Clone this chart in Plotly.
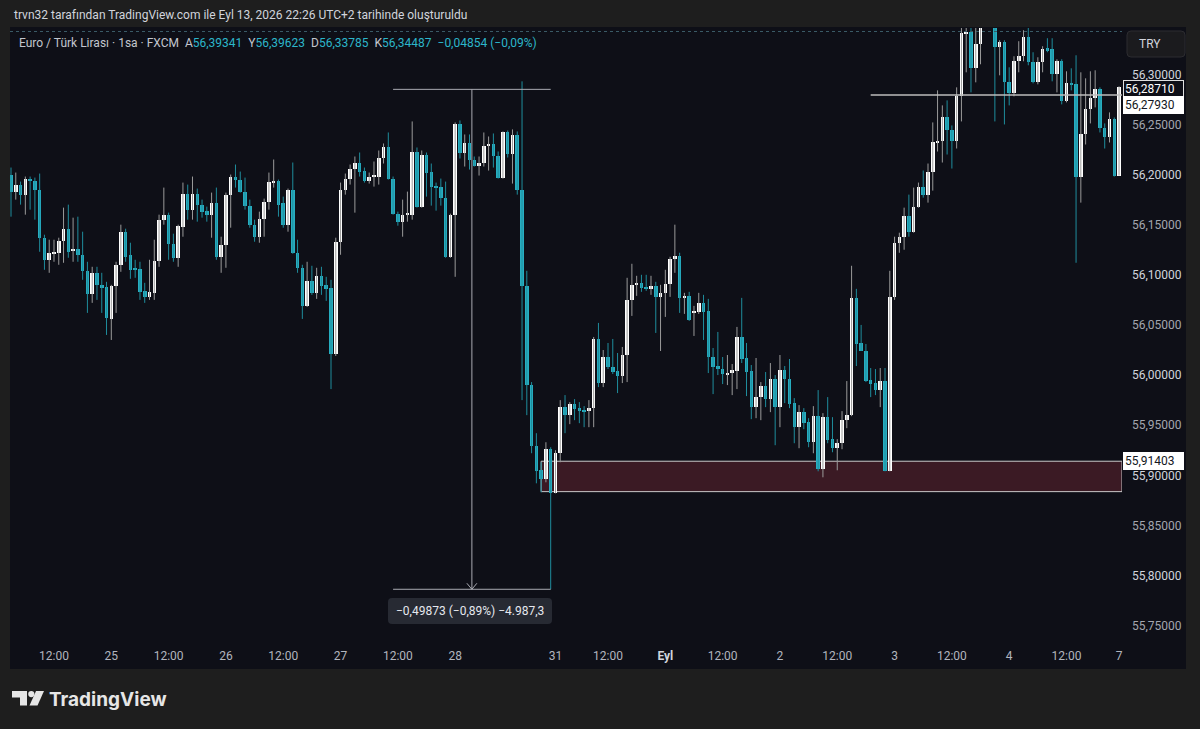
import plotly.graph_objects as go

# ---------------- data (EUR/TRY, 1h bars) ----------------
opens = [56.200,56.183,56.190,56.180,56.196,56.194,56.185,56.137,56.115,56.121,
         56.122,56.134,56.146,56.124,56.126,56.120,56.104,56.081,56.102,56.090,
         56.088,56.056,56.089,56.110,56.143,56.120,56.107,56.106,56.084,56.078,
         56.082,56.114,56.155,56.160,56.131,56.117,56.148,56.181,56.165,56.181,
         56.170,56.164,56.160,56.172,56.118,56.130,56.180,56.198,56.195,56.183,
         56.169,56.150,56.138,56.156,56.173,56.192,56.194,56.172,56.150,56.185,
         56.122,56.107,56.069,56.094,56.082,56.099,56.090,56.087,56.021,56.133,
         56.185,56.196,56.206,56.212,56.204,56.194,56.198,56.198,56.217,56.227,
         56.196,56.161,56.153,56.160,56.160,56.223,56.168,56.220,56.203,56.188,
         56.188,56.177,56.118,56.160,56.250,56.222,56.231,56.215,56.209,56.212,
         56.228,56.230,56.219,56.197,56.242,56.221,56.239,56.185,56.089,55.990,
         55.929,55.905,55.896,55.926,55.882,55.922,55.968,55.960,55.971,55.967,
         55.965,55.964,55.967,56.036,55.992,56.018,56.008,56.004,55.999,56.020,
         56.075,56.090,56.092,56.088,56.086,56.089,56.078,56.082,56.091,56.116,
         56.119,56.077,56.079,56.062,56.063,56.072,56.064,56.018,56.009,56.006,
         56.001,56.002,56.004,56.038,56.017,56.004,55.968,55.978,55.989,55.976,
         55.996,55.968,56.005,55.996,55.972,55.948,55.963,55.953,55.933,55.959,
         55.906,55.958,55.936,55.927,55.932,55.955,55.960,56.077,56.032,56.024,
         55.995,55.992,55.985,55.994,55.904,56.078,56.132,56.138,56.159,56.143,
         56.168,56.188,56.180,56.203,56.232,56.233,56.257,56.244,56.233,56.278,
         56.341,56.342,56.306,56.330,56.352,56.370,56.358,56.327,56.332,56.292,
         56.281,56.313,56.318,56.337,56.312,56.292,56.312,56.326,56.325,56.300,
         56.313,56.273,56.291,56.290,56.198,56.240,56.265,56.276,56.285,56.246,
         56.237,56.255,56.199]
highs = [56.207,56.202,56.193,56.198,56.198,56.197,56.201,56.140,56.135,56.135,
         56.137,56.167,56.170,56.157,56.158,56.143,56.113,56.108,56.108,56.102,
         56.093,56.090,56.113,56.150,56.146,56.132,56.115,56.113,56.092,56.115,
         56.135,56.160,56.187,56.162,56.141,56.150,56.192,56.190,56.198,56.186,
         56.175,56.168,56.182,56.187,56.138,56.182,56.200,56.210,56.203,56.197,
         56.175,56.155,56.163,56.176,56.202,56.215,56.195,56.178,56.186,56.212,
         56.135,56.110,56.113,56.109,56.107,56.108,56.098,56.095,56.137,56.192,
         56.201,56.210,56.218,56.222,56.207,56.202,56.213,56.224,56.231,56.242,
         56.198,56.163,56.175,56.183,56.253,56.227,56.224,56.222,56.211,56.192,
         56.196,56.193,56.161,56.252,56.254,56.240,56.240,56.218,56.218,56.242,
         56.238,56.241,56.223,56.243,56.244,56.245,56.243,56.293,56.104,55.993,
         55.942,55.913,55.933,55.928,55.925,55.975,55.980,55.973,55.976,55.973,
         55.969,55.975,56.038,56.052,56.025,56.032,56.036,56.022,56.028,56.097,
         56.111,56.099,56.100,56.100,56.099,56.093,56.090,56.105,56.118,56.150,
         56.122,56.082,56.083,56.069,56.082,56.080,56.076,56.027,56.043,56.018,
         56.020,56.011,56.048,56.077,56.032,56.010,56.017,55.993,56.003,56.012,
         56.000,56.020,56.009,56.016,55.977,55.970,55.967,55.957,55.969,55.985,
         55.962,55.978,55.958,55.936,55.964,55.994,56.109,56.086,56.050,56.031,
         56.007,56.006,56.007,56.007,56.104,56.138,56.142,56.167,56.180,56.187,
         56.192,56.204,56.211,56.252,56.284,56.269,56.274,56.249,56.287,56.348,
         56.350,56.352,56.352,56.362,56.378,56.376,56.364,56.334,56.334,56.307,
         56.318,56.333,56.344,56.350,56.322,56.317,56.328,56.336,56.336,56.315,
         56.315,56.303,56.306,56.319,56.302,56.296,56.303,56.304,56.287,56.251,
         56.262,56.257,56.288]
lows = [56.158,56.175,56.170,56.160,56.165,56.155,56.123,56.105,56.102,56.113,
        56.110,56.112,56.117,56.113,56.113,56.095,56.062,56.072,56.075,56.062,
        56.040,56.035,56.062,56.103,56.113,56.096,56.097,56.075,56.072,56.075,
        56.075,56.108,56.150,56.115,56.113,56.108,56.138,56.155,56.155,56.153,
        56.157,56.153,56.137,56.115,56.102,56.107,56.147,56.187,56.182,56.165,
        56.147,56.133,56.132,56.138,56.165,56.187,56.158,56.147,56.143,56.121,
        56.102,56.056,56.068,56.080,56.076,56.080,56.074,55.986,56.019,56.120,
        56.180,56.190,56.162,56.198,56.192,56.191,56.188,56.190,56.211,56.195,
        56.160,56.149,56.138,56.153,56.155,56.167,56.167,56.178,56.169,56.164,
        56.169,56.117,56.117,56.098,56.216,56.208,56.205,56.208,56.199,56.208,
        56.204,56.207,56.196,56.196,56.217,56.191,56.180,55.975,55.960,55.922,
        55.892,55.883,55.893,55.7863,55.882,55.913,55.942,55.951,55.955,55.952,
        55.948,55.948,55.948,55.988,55.988,56.006,56.001,55.982,55.992,55.993,
        56.059,56.079,56.083,56.084,56.080,56.042,56.024,56.058,56.078,56.102,
        56.062,56.061,56.054,56.039,56.061,56.035,56.002,55.981,56.000,55.991,
        55.990,55.980,55.986,56.012,55.979,55.956,55.957,55.955,55.968,55.963,
        55.930,55.948,55.972,55.967,55.932,55.927,55.946,55.928,55.922,55.904,
        55.898,55.932,55.923,55.905,55.926,55.947,55.959,56.009,56.024,55.993,
        55.978,55.980,55.968,55.904,55.904,56.075,56.122,56.125,56.138,56.142,
        56.167,56.177,56.172,56.184,56.223,56.212,56.220,56.206,56.226,56.253,
        56.302,56.282,56.292,56.310,56.348,56.350,56.253,56.299,56.250,56.269,
        56.278,56.302,56.313,56.309,56.291,56.290,56.302,56.322,56.293,56.282,
        56.270,56.272,56.284,56.112,56.172,56.230,56.251,56.267,56.242,56.226,
        56.232,56.198,56.199]
closes = [56.183,56.190,56.180,56.196,56.194,56.185,56.137,56.115,56.122,56.123,
          56.134,56.146,56.123,56.126,56.120,56.104,56.081,56.102,56.090,56.087,
          56.057,56.089,56.110,56.143,56.118,56.105,56.105,56.083,56.078,56.083,
          56.114,56.155,56.160,56.131,56.117,56.149,56.181,56.165,56.181,56.170,
          56.163,56.160,56.172,56.118,56.130,56.180,56.198,56.195,56.183,56.169,
          56.150,56.138,56.156,56.173,56.193,56.194,56.170,56.150,56.185,56.122,
          56.107,56.069,56.094,56.082,56.099,56.089,56.086,56.021,56.133,56.185,
          56.196,56.206,56.212,56.203,56.194,56.198,56.199,56.217,56.227,56.196,
          56.161,56.153,56.160,56.161,56.223,56.168,56.220,56.202,56.188,56.187,
          56.177,56.118,56.160,56.250,56.222,56.231,56.215,56.209,56.212,56.228,
          56.230,56.219,56.197,56.242,56.221,56.239,56.185,56.089,55.990,55.929,
          55.904,55.896,55.926,55.882,55.922,55.968,55.960,55.971,55.966,55.964,
          55.964,55.967,56.036,55.992,56.018,56.008,56.003,55.999,56.020,56.075,
          56.090,56.092,56.087,56.086,56.089,56.078,56.082,56.091,56.116,56.119,
          56.077,56.079,56.055,56.063,56.072,56.063,56.018,56.008,56.006,56.001,
          56.002,56.005,56.038,56.016,56.003,55.968,55.978,55.989,55.976,55.996,
          55.968,56.005,55.996,55.971,55.948,55.963,55.952,55.933,55.959,55.906,
          55.958,55.935,55.927,55.932,55.955,55.960,56.077,56.031,56.024,55.994,
          55.991,55.985,55.994,55.904,56.078,56.132,56.138,56.159,56.143,56.168,
          56.188,56.180,56.203,56.232,56.233,56.257,56.244,56.233,56.278,56.341,
          56.342,56.306,56.330,56.352,56.370,56.358,56.327,56.332,56.292,56.281,
          56.313,56.318,56.337,56.312,56.292,56.312,56.325,56.323,56.300,56.313,
          56.273,56.291,56.289,56.198,56.240,56.265,56.276,56.285,56.246,56.237,
          56.255,56.199,56.2871]

tick_bars = [9, 21, 33, 45, 57, 69, 81, 93, 114, 125, 137, 149, 161, 173, 185, 197, 209, 221, 232]
tick_labels = ["12:00", "25", "12:00", "26", "12:00", "27", "12:00", "28", "31", "12:00",
               "Eyl", "12:00", "2", "12:00", "3", "12:00", "4", "12:00", "7"]
price_ticks = [55.75, 55.80, 55.85, 55.90, 55.95, 56.00, 56.05, 56.10, 56.15, 56.20, 56.25, 56.30]

hline_level = 56.2793
hline_start_bar = 180
zone_top = 55.91403
zone_bottom = 55.8837
zone_start_bar = 111
measure_top = 56.2850
measure_bottom = 55.7863
measure_start_bar = 80
measure_end_bar = 113
measure_mid_bar = 96.5
measure_text = "−0,49873 (−0,89%) −4.987,3"

# ---------------- styling ----------------
W, H = 1200, 729
PL, PR, PT, PB = 10, 1122, 28, 640       # plot area in pixels
X_RANGE = [-0.21, 232.62]
Y_RANGE = [55.7357, 56.3462]
OUTER = "#1e1e1e"
PANEL = "#0e0f17"
TEAL = "#27adc0"
TEAL_WICK = "#1f8d9d"
UP = "#ffffff"
UP_WICK = "#9a9a9a"
TXT = "#b2b5be"
FONT = "Roboto, sans-serif"
FS = 12


def fmt(v):
    return f"{v:.5f}".replace(".", ",")


def px(x):
    # pixel x -> paper (plot-area relative)
    return (x - PL) / (PR - PL)


def py(y):
    return (PB - y) / (PB - PT)


n = len(closes)
idx = list(range(n))

# wicks
wx_up, wy_up, wx_dn, wy_dn = [], [], [], []
for i in idx:
    if closes[i] >= opens[i]:
        wx_up += [i, i, None]
        wy_up += [lows[i], highs[i], None]
    else:
        wx_dn += [i, i, None]
        wy_dn += [lows[i], highs[i], None]

body_base = [min(o, c) for o, c in zip(opens, closes)]
body_h = [max(abs(c - o), 0.0009) for o, c in zip(opens, closes)]
body_col = [UP if c >= o else TEAL for o, c in zip(opens, closes)]

fig = go.Figure()
fig.add_trace(go.Scatter(x=wx_up, y=wy_up, mode="lines", line=dict(color=UP_WICK, width=1),
                         hoverinfo="skip", showlegend=False))
fig.add_trace(go.Scatter(x=wx_dn, y=wy_dn, mode="lines", line=dict(color=TEAL_WICK, width=1),
                         hoverinfo="skip", showlegend=False))
fig.add_trace(go.Bar(x=idx, y=body_h, base=body_base, width=0.74,
                     marker=dict(color=body_col, line=dict(width=0)),
                     hoverinfo="skip", showlegend=False))

shapes = []
# panel background
shapes.append(dict(type="rect", xref="paper", yref="paper", x0=px(10), x1=px(1186), y0=py(669), y1=py(27),
                   fillcolor=PANEL, line=dict(width=0), layer="below"))
# dotted top line
shapes.append(dict(type="line", xref="paper", yref="paper", x0=px(10), x1=px(1122), y0=py(31.5), y1=py(31.5),
                   line=dict(color="#3a5a66", width=1, dash="dot")))
# demand zone
shapes.append(dict(type="rect", xref="x", yref="y", x0=zone_start_bar, x1=X_RANGE[1], y0=zone_bottom, y1=zone_top,
                   fillcolor="#3b1a24", line=dict(color="#c9c9c9", width=1), layer="below"))
# horizontal level
shapes.append(dict(type="line", xref="x", yref="y", x0=hline_start_bar, x1=X_RANGE[1], y0=hline_level, y1=hline_level,
                   line=dict(color="#bdbdbd", width=1.5)))
# measurement tool
MC = "#a9abb3"
for lvl in (measure_top, measure_bottom):
    shapes.append(dict(type="line", xref="x", yref="y", x0=measure_start_bar, x1=measure_end_bar, y0=lvl, y1=lvl,
                       line=dict(color=MC, width=1)))
shapes.append(dict(type="line", xref="x", yref="y", x0=measure_mid_bar, x1=measure_mid_bar,
                   y0=measure_top, y1=measure_bottom, line=dict(color=MC, width=1)))
bar_px = (PR - PL) / (X_RANGE[1] - X_RANGE[0])
val_px = (PB - PT) / (Y_RANGE[1] - Y_RANGE[0])
for s in (-1, 1):
    shapes.append(dict(type="line", xref="x", yref="y", x0=measure_mid_bar, x1=measure_mid_bar + s * 5 / bar_px,
                       y0=measure_bottom, y1=measure_bottom + 6 / val_px, line=dict(color=MC, width=1)))


def rrect(x0, y0, x1, y1, r):
    X0, X1 = px(x0), px(x1)
    Y0, Y1 = py(y0), py(y1)
    rx, ry = r / (PR - PL), r / (PB - PT)
    return (f"M{X0+rx},{Y0} L{X1-rx},{Y0} Q{X1},{Y0} {X1},{Y0-ry} L{X1},{Y1+ry} Q{X1},{Y1} {X1-rx},{Y1} "
            f"L{X0+rx},{Y1} Q{X0},{Y1} {X0},{Y1+ry} L{X0},{Y0-ry} Q{X0},{Y0} {X0+rx},{Y0} Z")


# measurement label box
shapes.append(dict(type="path", xref="paper", yref="paper", path=rrect(388, 598, 552, 624, 4),
                   fillcolor="#272a33", line=dict(width=0)))
# TRY button
shapes.append(dict(type="path", xref="paper", yref="paper", path=rrect(1127, 31, 1185, 57, 4),
                   fillcolor="#1b1b1e", line=dict(color="#2c2c30", width=1)))
# TradingView logo glyph
shapes.append(dict(type="path", xref="paper", yref="paper",
                   path=f"M{px(12)},{py(691)} L{px(27)},{py(691)} L{px(27)},{py(705.5)} L{px(20)},{py(705.5)} "
                        f"L{px(20)},{py(697.5)} L{px(12)},{py(697.5)} Z",
                   fillcolor="#e6e6e6", line=dict(width=0)))
shapes.append(dict(type="circle", xref="paper", yref="paper", x0=px(28.2), x1=px(34.4), y0=py(697.2), y1=py(691),
                   fillcolor="#e6e6e6", line=dict(width=0)))
shapes.append(dict(type="path", xref="paper", yref="paper",
                   path=f"M{px(36)},{py(691)} L{px(44)},{py(691)} L{px(37.5)},{py(705.5)} L{px(29.5)},{py(705.5)} Z",
                   fillcolor="#e6e6e6", line=dict(width=0)))

ann = []
ann.append(dict(xref="paper", yref="paper", x=px(12), y=py(15), xanchor="left", yanchor="middle", showarrow=False,
                text="trvn32 tarafından TradingView.com ile Eyl 13, 2026 22:26 UTC+2 tarihinde oluşturuldu",
                font=dict(family=FONT, size=FS, color="#d1d4dc")))
VC = "#2cb6ca"
legend = ("Euro / Türk Lirası · 1sa · FXCM\u00a0\u00a0"
          f"A<span style='color:{VC}'>56,39341</span>\u00a0\u00a0"
          f"Y<span style='color:{VC}'>56,39623</span>\u00a0\u00a0"
          f"D<span style='color:{VC}'>56,33785</span>\u00a0\u00a0"
          f"K<span style='color:{VC}'>56,34487</span>\u00a0\u00a0"
          f"<span style='color:{VC}'>−0,04854 (−0,09%)</span>")
ann.append(dict(xref="paper", yref="paper", x=px(17), y=py(43), xanchor="left", yanchor="middle", showarrow=False,
                text=legend, font=dict(family=FONT, size=FS, color="#c3c6ce")))
ann.append(dict(xref="paper", yref="paper", x=px(1137), y=py(44), xanchor="left", yanchor="middle", showarrow=False,
                text="TRY", font=dict(family=FONT, size=FS, color="#d1d4dc")))
ann.append(dict(xref="paper", yref="paper", x=px(470), y=py(611), xanchor="center", yanchor="middle", showarrow=False,
                text=measure_text, font=dict(family=FONT, size=FS, color="#e6e8ee")))
ann.append(dict(xref="paper", yref="paper", x=px(47), y=py(699), xanchor="left", yanchor="middle", showarrow=False,
                text="<b>TradingView</b>", font=dict(family="Inter, sans-serif", size=19, color="#e6e6e6")))
# price-scale labels
ann.append(dict(xref="paper", yref="y", x=px(1123), y=closes[-1], yshift=-1.5, xanchor="left", yanchor="middle",
                showarrow=False, text=fmt(closes[-1]), bgcolor=PANEL, bordercolor="#e0e0e0", borderwidth=1,
                borderpad=1, width=57, align="left", font=dict(family=FONT, size=FS, color="#ffffff")))
ann.append(dict(xref="paper", yref="y", x=px(1123), y=hline_level, yshift=-9.5, xanchor="left", yanchor="middle",
                showarrow=False, text=fmt(hline_level), bgcolor="#ffffff", bordercolor="#ffffff", borderwidth=1,
                borderpad=1, width=57, align="left", font=dict(family=FONT, size=FS, color="#131722")))
ann.append(dict(xref="paper", yref="y", x=px(1123), y=zone_top, xanchor="left", yanchor="middle",
                showarrow=False, text=fmt(zone_top), bgcolor="#ffffff", bordercolor="#ffffff", borderwidth=1,
                borderpad=1, width=57, align="left", font=dict(family=FONT, size=FS, color="#131722")))

ytext = []
for v in price_ticks:
    c = "#d1d4dc" if round(v * 100) % 10 == 0 else "#a3a6af"
    ytext.append(f"<span style='color:{c}'>{fmt(v)}</span>")
xtext = [f"<b><span style='color:#d1d4dc'>{t}</span></b>" if t == "Eyl" else t for t in tick_labels]

fig.update_layout(
    width=W, height=H,
    margin=dict(l=PL, r=W - PR, t=PT, b=H - PB, pad=0),
    paper_bgcolor=OUTER, plot_bgcolor=PANEL,
    shapes=shapes, annotations=ann, showlegend=False,
    bargap=0, barmode="overlay",
    xaxis=dict(range=X_RANGE, tickvals=tick_bars, ticktext=xtext, showgrid=False, zeroline=False,
               showline=False, ticks="", ticklabelstandoff=7, fixedrange=True,
               tickfont=dict(family=FONT, size=FS, color=TXT)),
    yaxis=dict(range=Y_RANGE, side="right", tickvals=price_ticks, ticktext=ytext, showgrid=False,
               zeroline=False, showline=False, ticks="", ticklabelstandoff=9, fixedrange=True,
               tickfont=dict(family=FONT, size=FS, color=TXT)),
)

fig.write_html("out.html", config={"displayModeBar": False},
               post_script="document.body.style.margin='0';")
